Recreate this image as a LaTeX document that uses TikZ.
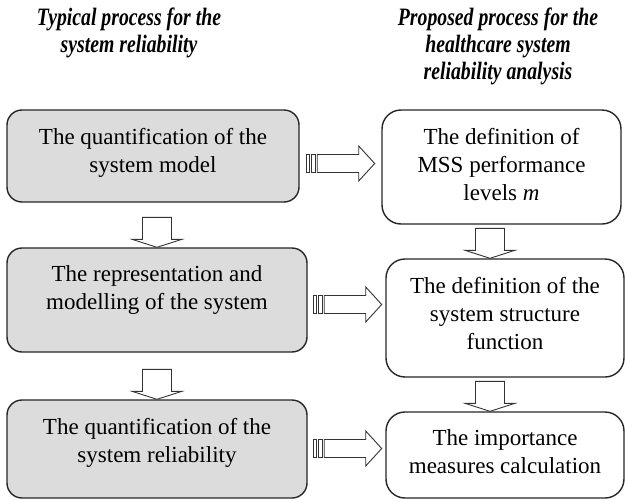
\documentclass[tikz,border=0pt]{standalone}
\usepackage{fontspec}
\setmainfont{Liberation Serif}
\newfontfamily\headfont[FakeStretch=0.79]{Liberation Serif}
\usepackage{tikz}
\usetikzlibrary{positioning, calc}

\definecolor{boxgray}{RGB}{220,220,220}

% text of a box, hung from its top edge
\newcommand{\boxtext}[3]{\parbox[c][#2pt][t]{#1pt}{\centering\vspace*{18pt}#3}}

% hollow block arrow pointing down, tip at #1
\newcommand{\downblock}[1]{%
  \draw[blockarrow] (#1) -- ++(-25,-8) -- ++(10.5,0) -- ++(0,-22) -- ++(29,0)
    -- ++(0,22) -- ++(10.5,0) -- cycle;}

% striped block arrow pointing right, tail at #1
\newcommand{\stripedblock}[1]{%
  \draw[blockarrow] (#1) ++(0,-9) rectangle ++(3,18);
  \draw[blockarrow] (#1) ++(4.5,-9) rectangle ++(4.5,18);
  \draw[blockarrow] (#1) ++(10.5,-9) -- ++(41.5,0) -- ++(0,-8.5) -- ++(16,17.5)
    -- ++(-16,17.5) -- ++(0,-8.5) -- ++(-41.5,0) -- cycle;}

\tikzset{
  typbox/.style={draw=black!85, line width=1.4pt, rounded corners=15pt,
    fill=boxgray, inner sep=0pt, font=\fontsize{23}{28}\selectfont},
  propbox/.style={typbox, rounded corners=19pt, fill=white},
  heading/.style={align=center, font=\headfont\fontsize{25}{27}\selectfont\bfseries\itshape},
  blockarrow/.style={draw=black!80, line width=0.9pt, fill=white}
}

\begin{document}
\begin{tikzpicture}[x=1pt, y=-1pt]
    \useasboundingbox (0,0) rectangle (625,501);

    \node at (129,33) [heading] (typhead) {Typical process for the\\system reliability};
    \node at (498,46.5) [heading] (prophead) {Proposed process for the\\healthcare system\\reliability analysis};

    % typical process
    \node at (153,156) [typbox] (l1) {\boxtext{292}{92}{The quantification of the\\system model}};
    \node at (157,300) [typbox] (l2) {\boxtext{300}{104}{The representation and\\modelling of the system}};
    \node at (157,449) [typbox] (l3) {\boxtext{300}{98}{The quantification of the\\system reliability}};

    % proposed process
    \node at (501.5,167) [propbox] (r1) {\boxtext{239}{114}{The definition of\\MSS performance\\levels \textit{m}}};
    \node at (505,318) [propbox] (r2) {\boxtext{238}{118}{The definition of the\\system structure\\function}};
    \node at (505,455) [propbox] (r3) {\boxtext{238}{86}{The importance\\measures calculation}};

    \downblock{l2.north}
    \downblock{l3.north}
    \downblock{$(r2.north)+(-15,0)$}
    \downblock{$(r3.north)+(-15,0)$}

    \stripedblock{$(l1.east)+(7,7.5)$}
    \stripedblock{$(l2.east)+(6,4.5)$}
    \stripedblock{$(l3.east)+(6,-0.5)$}
\end{tikzpicture}
\end{document}
